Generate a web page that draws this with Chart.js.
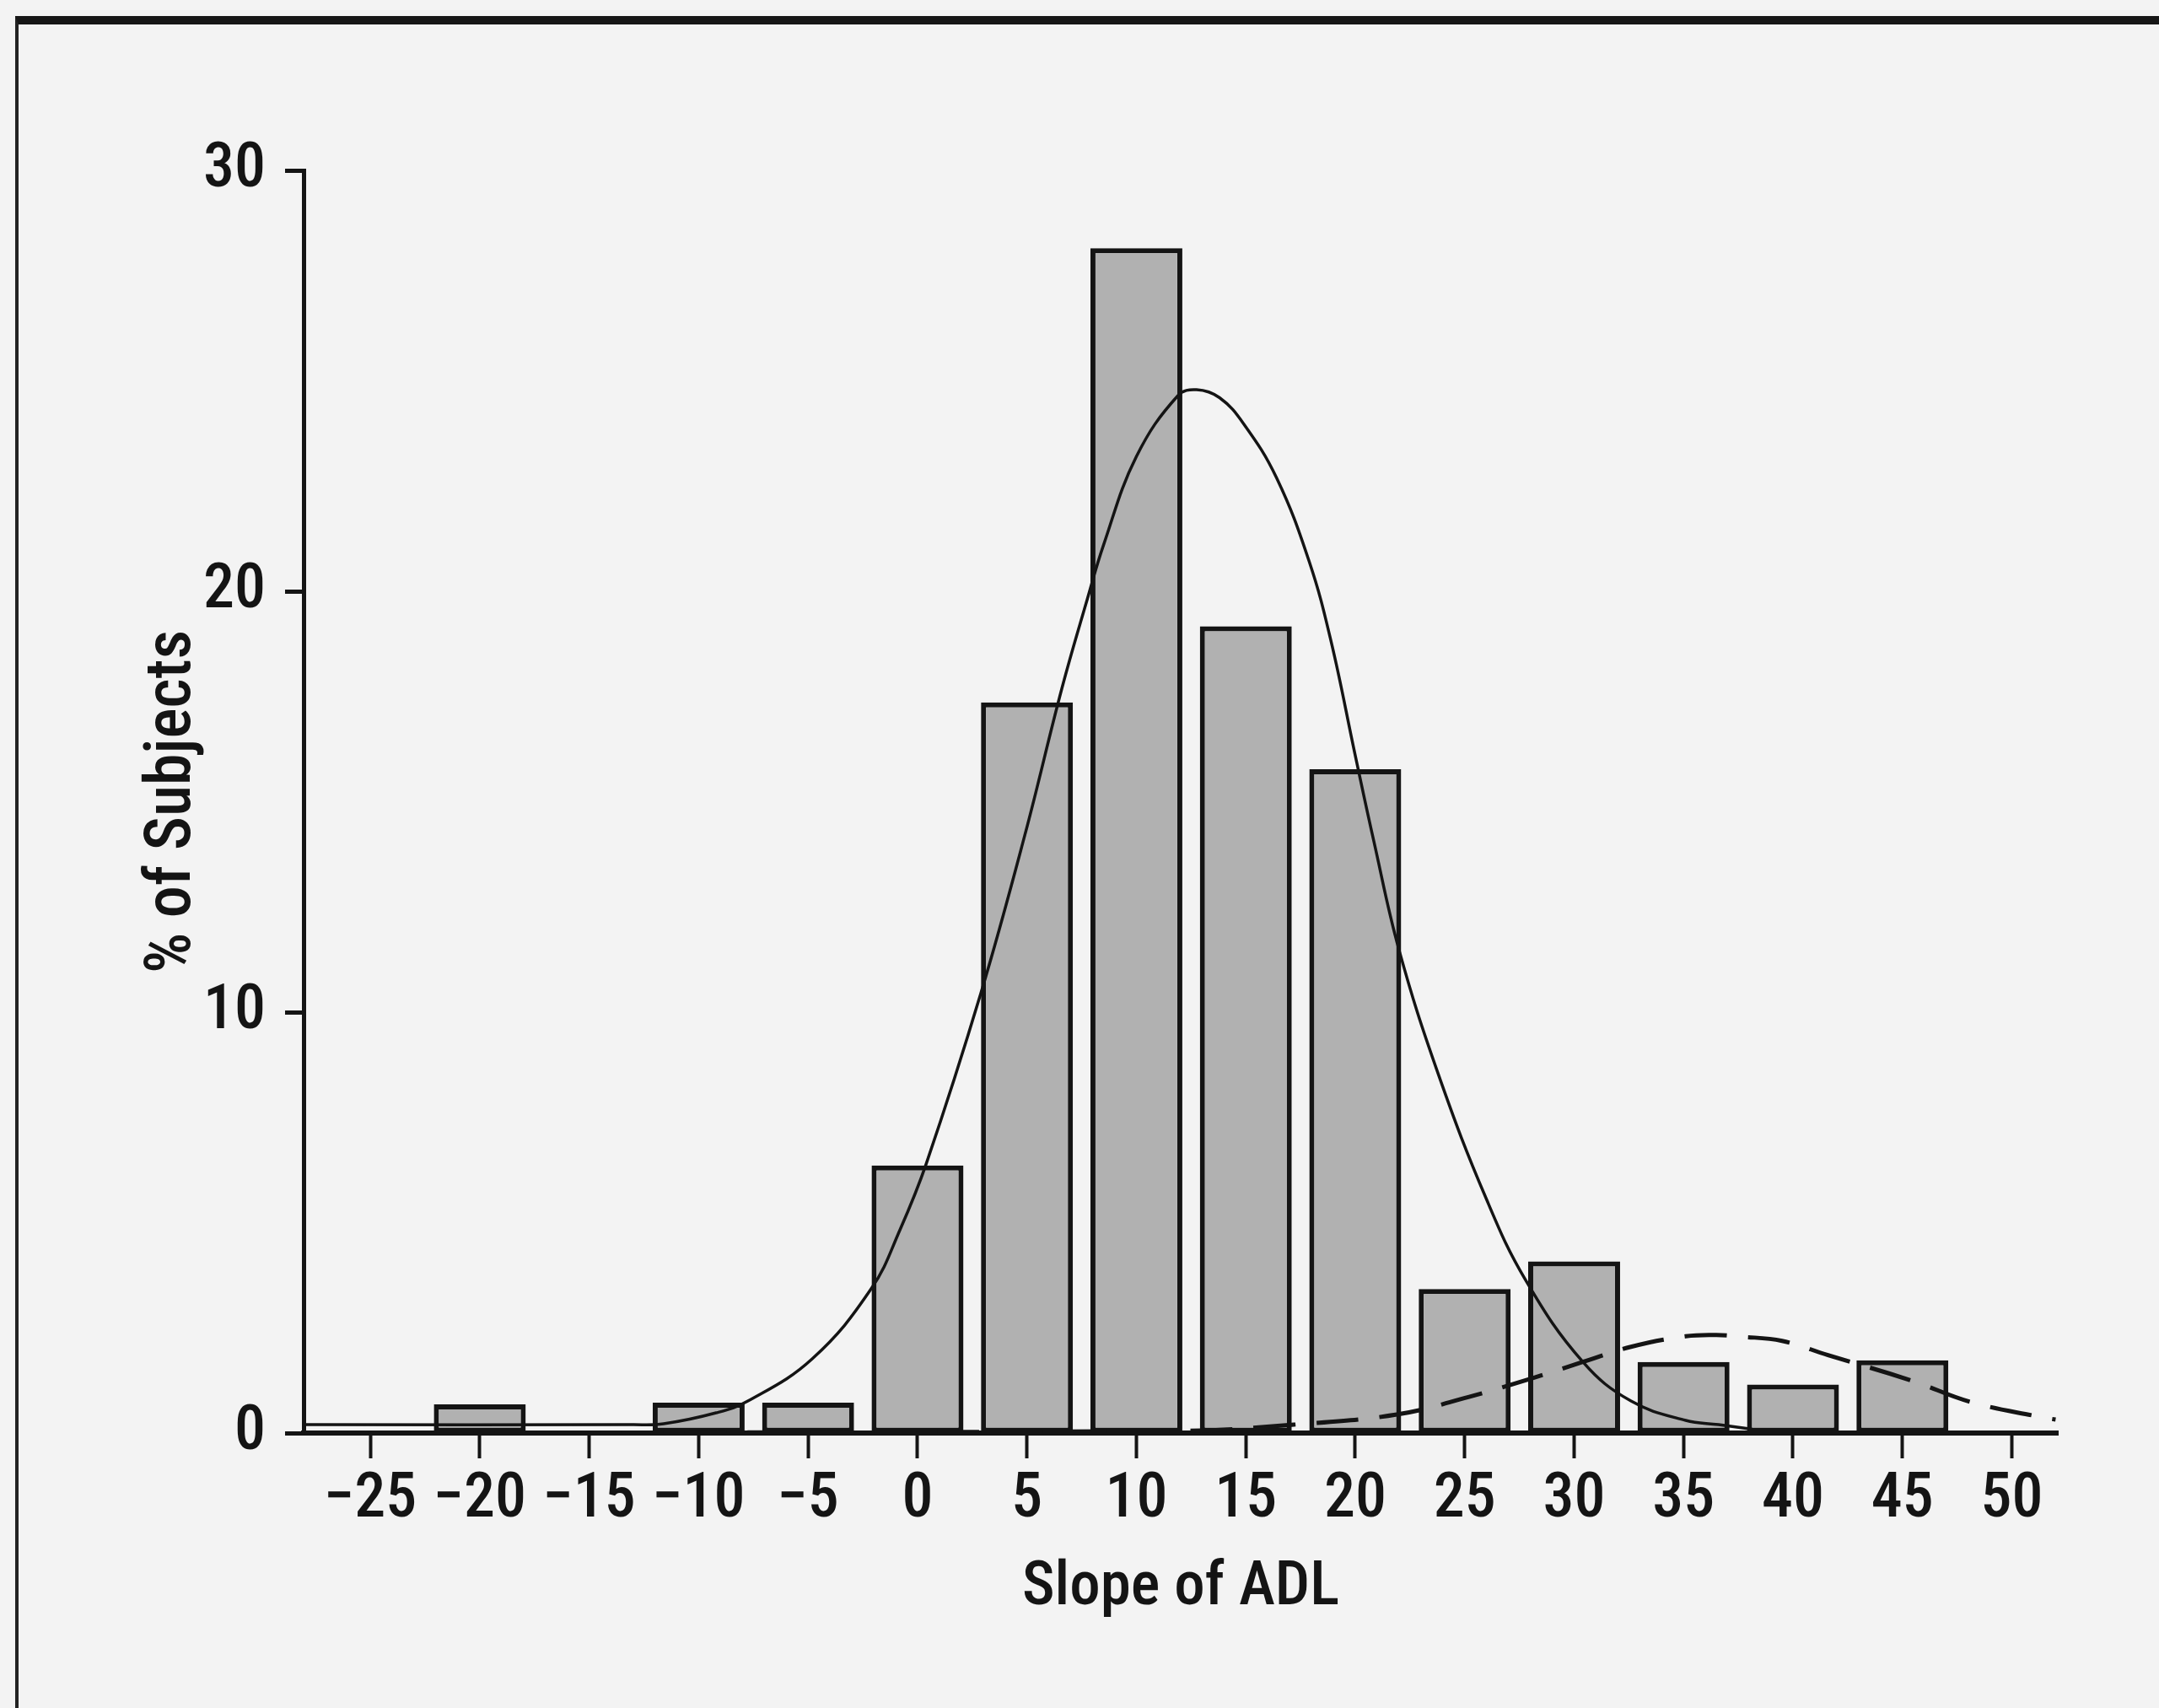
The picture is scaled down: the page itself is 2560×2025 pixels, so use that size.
<!DOCTYPE html>
<html>
<head>
<meta charset="utf-8">
<script src="https://cdn.jsdelivr.net/npm/chart.js@4.4.1/dist/chart.umd.min.js"></script>
<style>
  html,body{margin:0;padding:0;background:#f3f3f3;}
  #wrap{position:relative;width:2560px;height:2025px;overflow:hidden;}
  #frame{position:absolute;left:18px;top:19px;right:-20px;bottom:-20px;border-top:10px solid #161616;border-left:4px solid #222;}
  canvas{position:absolute;left:0;top:0;}
</style>
</head>
<body>
<div id="wrap">
  <div id="frame"></div>
  <canvas id="chart" width="2560" height="2025"></canvas>
</div>
<script>
// histogram bins (centre of each 5-unit bin) and % of subjects
const binCenters = [-20, -10, -5, 0, 5, 10, 15, 20, 25, 30, 35, 40, 45];
const pctSubjects = [0.68, 0.72, 0.72, 6.36, 17.36, 28.15, 19.17, 15.77, 3.42, 4.08, 1.69, 1.15, 1.73];

// main fitted curve (solid)
const fitX = [-28, -13, -11.6, -9.2, -7.75, -4.8, -2.1, -0.8, 0.4, 2.9, 4.9, 6.6, 7.75, 8.5, 10, 11.9, 12.75, 13.8, 14.9, 16.4, 17.9, 18.9, 20, 20.85, 22, 23.8, 26, 27.8, 30.4, 32.6, 35.1, 36.6, 38];
const fitY = [0.2, 0.2, 0.22, 0.48, 0.76, 1.77, 3.44, 4.83, 6.4, 10.46, 14.2, 17.7, 19.8, 21.1, 23.2, 24.65, 24.79, 24.6, 23.98, 22.7, 20.7, 18.8, 16.1, 14.06, 11.48, 8.52, 5.55, 3.62, 1.69, 0.76, 0.3, 0.2, 0.1];

// second component (dashed)
const fit2X = [-28, 12, 17.2, 21.9, 25.2, 28.2, 30.4, 32.6, 35.1, 36.5, 37.6, 39.5, 41.6, 45.4, 48.1, 51.3, 52];
const fit2Y = [0, 0.05, 0.2, 0.44, 0.86, 1.32, 1.69, 2.05, 2.3, 2.33, 2.29, 2.19, 1.85, 1.25, 0.74, 0.38, 0.32];

const xTicks = [-25, -20, -15, -10, -5, 0, 5, 10, 15, 20, 25, 30, 35, 40, 45, 50];
const yTicks = [0, 10, 20, 30];

const xTitle = 'Slope of ADL';
const yTitle = '% of Subjects';

const FONT = "'Roboto Condensed', 'DejaVu Sans Condensed', sans-serif";
const INK = '#141414';

function pts(xs, ys){ return xs.map((x,i)=>({x, y: ys[i]})); }

new Chart(document.getElementById('chart').getContext('2d'), {
  type: 'bar',
  data: {
    datasets: [
      {
        type: 'line',
        data: pts(fitX, fitY),
        borderColor: INK,
        borderWidth: 3.5,
        pointRadius: 0,
        tension: 0.4,
        fill: false,
        order: 1
      },
      {
        type: 'line',
        data: pts(fit2X, fit2Y),
        borderColor: INK,
        borderWidth: 5,
        borderDash: [50, 25],
        pointRadius: 0,
        tension: 0.4,
        fill: false,
        order: 2
      },
      {
        type: 'bar',
        data: pts(binCenters, pctSubjects),
        backgroundColor: '#b1b1b1',
        borderColor: INK,
        borderWidth: 6,
        borderSkipped: false,
        barPercentage: 0.84,
        categoryPercentage: 1,
        order: 3
      }
    ]
  },
  options: {
    responsive: false,
    animation: false,
    devicePixelRatio: 1,
    layout: { padding: { top: 202, right: 120, left: 0, bottom: 0 } },
    plugins: { legend: { display: false }, tooltip: { enabled: false } },
    scales: {
      x: {
        type: 'linear',
        offset: false,
        min: -28.05,
        max: 52.1,
        afterFit: s => { s.height = 326; },
        afterBuildTicks: s => { s.ticks = xTicks.map(v=>({value: v})); },
        border: { display: true, color: INK, width: 6 },
        grid: { display: true, offset: false, drawOnChartArea: false, drawTicks: true, tickLength: 30, tickWidth: 4, tickColor: INK },
        ticks: {
          color: INK,
          padding: 6,
          maxRotation: 0,
          autoSkip: false,
          font: { family: FONT, size: 74, weight: '500' },
          callback: v => String(v).replace('-', '\u2212')
        },
        title: {
          display: true,
          text: xTitle,
          color: INK,
          font: { family: FONT, size: 73, weight: '500' },
          padding: { top: 0, bottom: 97 }
        }
      },
      y: {
        type: 'linear',
        min: 0,
        max: 30,
        afterFit: s => { s.width = 360; },
        afterBuildTicks: s => { s.ticks = yTicks.map(v=>({value: v})); },
        border: { display: true, color: INK, width: 5 },
        grid: { display: true, drawOnChartArea: false, drawTicks: true, tickLength: 22, tickWidth: 5, tickColor: INK },
        ticks: {
          color: INK,
          padding: 23,
          font: { family: FONT, size: 74, weight: '500' }
        },
        title: {
          display: true,
          text: yTitle,
          color: INK,
          font: { family: FONT, size: 76, weight: '500' },
          padding: { top: 160, bottom: 0 }
        }
      }
    }
  }
});
</script>
</body>
</html>
